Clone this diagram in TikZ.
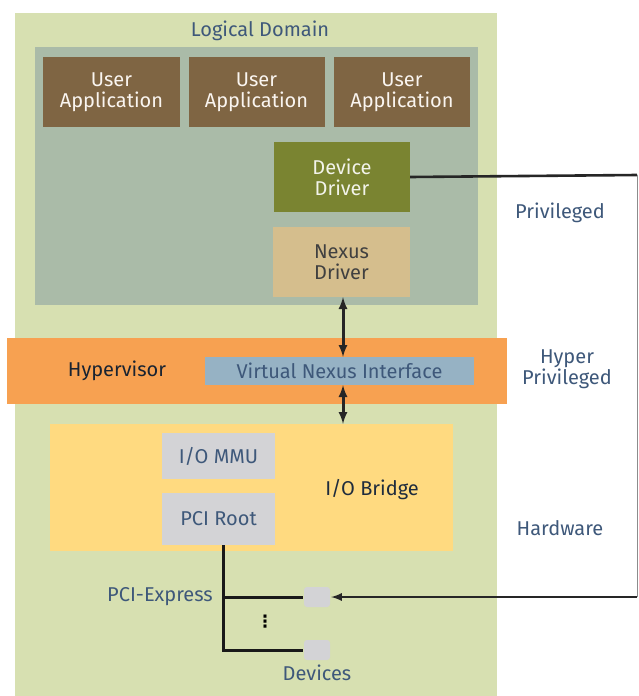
\documentclass[tikz,border=0pt]{standalone}
\usepackage{fontspec}
\setmainfont{Fira Sans}
\newfontfamily\symfont{DejaVu Sans}
\usetikzlibrary{arrows,positioning,calc}
\definecolor{ldgreen}{RGB}{215,224,177}
\definecolor{guestgrey}{RGB}{170,187,168}
\definecolor{appbrown}{RGB}{127,101,67}
\definecolor{ddolive}{RGB}{122,132,49}
\definecolor{ndtan}{RGB}{213,190,141}
\definecolor{hvorange}{RGB}{247,161,81}
\definecolor{vniblue}{RGB}{150,178,196}
\definecolor{iobyellow}{RGB}{255,218,128}
\definecolor{hwgrey}{RGB}{211,211,214}
\definecolor{lbl}{RGB}{62,88,122}
\tikzset{blk/.style={rectangle, inner sep=0pt, align=center, font=\fontsize{20}{21}\selectfont}}
\tikzset{lbl/.style={text=lbl, align=center, inner sep=0pt, font=\fontsize{20}{21}\selectfont}}
\tikzset{arr/.style={draw, <->, >=latex, line width=3pt, black!85}}
\tikzset{bus/.style={draw, line width=3pt, black!90}}
\begin{document}
\begin{tikzpicture}[x=1pt, y=-1pt]
	\useasboundingbox (0,0) rectangle (639,696);
	\fill[white] (0,0) rectangle (639,696);
	
	\node[blk, fill=ldgreen, minimum width=482, minimum height=683] (ld) at (256,354.5){};
	\node[lbl] (ldname) at (260,31){Logical Domain};
	\node[blk, fill=guestgrey, minimum width=443, minimum height=258] (guest) at (256.5,176){};
	
	\node[blk, fill=appbrown, text=white!92!brown, minimum width=137, minimum height=70] (app1) at (111.5,92){User\\Application};
	\node[blk, fill=appbrown, text=white!92!brown, minimum width=136, minimum height=70] (app2) at (256.5,92){User\\Application};
	\node[blk, fill=appbrown, text=white!92!brown, minimum width=136, minimum height=70] (app3) at (402,92){User\\Application};
	
	\node[blk, fill=ddolive, text=white!90!ddolive, minimum width=136, minimum height=70] (dd) at (342,177){Device\\Driver};
	\node[blk, fill=ndtan, text=black!75, minimum width=137, minimum height=70] (nd) at (341.5,262){Nexus\\Driver};
	
	\node[blk, fill=hvorange, minimum width=500, minimum height=66] (hv) at (257,371){};
	\node[lbl, text=black!60!lbl] (hvname) at (117,371){Hypervisor};
	\node[blk, fill=vniblue, text=lbl, minimum width=269, minimum height=28] (vni) at (339.5,371){Virtual Nexus Interface};
	
	\node[blk, fill=iobyellow, minimum width=403, minimum height=127] (iob) at (251.5,487.5){};
	\node[lbl, text=black!50!lbl] (iobname) at (372,490){I/O Bridge};
	\node[blk, fill=hwgrey, text=lbl, minimum width=113, minimum height=46] (mmu) at (218.5,456){I/O MMU};
	\node[blk, fill=hwgrey, text=lbl, minimum width=113, minimum height=52] (root) at (218.5,519){PCI Root};
	
	\node[blk, fill=hwgrey, rounded corners=3pt, minimum width=26, minimum height=20] (dev1) at (317,597){};
	\node[blk, fill=hwgrey, rounded corners=3pt, minimum width=26, minimum height=20] (dev2) at (317,650){};
	\node[lbl, text=black, font=\symfont\bfseries\fontsize{17}{17}\selectfont] (vdots) at (265,622){⋮};
	\node[lbl] (pcie) at (160,597){PCI-Express};
	\node[lbl] (devs) at (317,673){Devices};
	
	\node[lbl] (priv) at (560,213){Privileged};
	\node[lbl] (hpriv) at (567,369){Hyper\\Privileged};
	\node[lbl] (hw) at (560,528){Hardware};
	
	\draw[arr] (nd.south -| 343,0) -- (vni.north -| 343,0);
	\draw[arr] (vni.south -| 343,0) -- (iob.north -| 343,0);
	
	\coordinate (pcib) at ([xshift=4.5pt]root.south |- dev1.west);
	\draw[bus] ([xshift=4.5pt]root.south) |- ([xshift=-1pt]dev2.west);
	\draw[bus] (pcib) -- ([xshift=-1pt]dev1.west);
	
	% link from the device driver to the device
	\coordinate (rt) at (637,175);
	\coordinate (rb) at (637,597);
	\draw[line width=2.6pt, black!85] (dd.east) -- (rt);
	\draw[line width=1pt, black!45] (rt) -- (rb);
	\draw[line width=2.6pt, black!85, -latex] (rb) -- ([xshift=1pt]dev1.east);
\end{tikzpicture}
\end{document}
